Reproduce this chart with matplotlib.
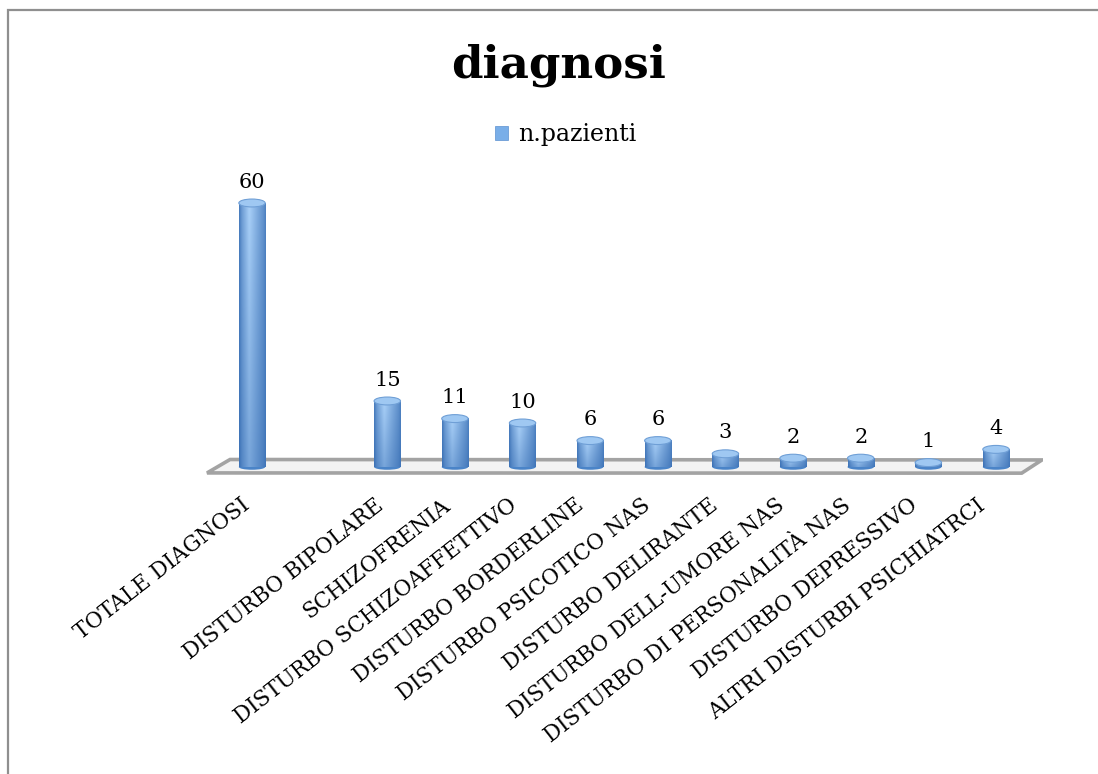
import numpy as np
import matplotlib
matplotlib.use("Agg")
import matplotlib.pyplot as plt
from matplotlib.patches import Ellipse, Polygon, Rectangle, Patch
from matplotlib.colors import to_rgb

# dati del grafico
categorie = ["TOTALE DIAGNOSI", "", "DISTURBO BIPOLARE", "SCHIZOFRENIA",
             "DISTURBO SCHIZOAFFETTIVO", "DISTURBO BORDERLINE",
             "DISTURBO PSICOTICO NAS", "DISTURBO DELIRANTE",
             "DISTURBO DELL-UMORE NAS", "DISTURBO DI PERSONALITÀ NAS",
             "DISTURBO DEPRESSIVO", "ALTRI DISTURBI PSICHIATRCI"]
n_pazienti = [60, np.nan, 15, 11, 10, 6, 6, 3, 2, 2, 1, 4]
titolo = "diagnosi"
serie = "n.pazienti"

SERIF = "DejaVu Serif"
BAR_W = 0.39       # larghezza cilindro (unità categoria)
CAP_H = 1.8        # altezza ellisse superiore (unità valore)

fig = plt.figure(figsize=(10.98, 7.74), dpi=100)
fig.patch.set_facecolor("white")

# cornice del grafico
fig.add_artist(Rectangle((8 / 1098, -0.05), 1.2, 1 - 10 / 774 + 0.05,
                         transform=fig.transFigure, fill=False,
                         edgecolor="#8f8f8f", lw=1.6))

ax = fig.add_axes([0.1864, 0.3796, 0.7638, 0.3695])
ax.set_xlim(-0.7, 11.7)
ax.set_ylim(-3, 62)
ax.axis("off")

# pavimento 3d
floor = Polygon([(-0.665, -1.35), (-0.325, 1.7), (11.68, 1.6), (11.38, -1.4)],
                closed=True, facecolor="#f3f3f3", edgecolor="#a3a3a3",
                lw=2.6, zorder=1)
ax.add_patch(floor)

# gradiente dei cilindri
light = np.array(to_rgb("#b0d6fc"))
dark = np.array(to_rgb("#2a62ab"))
t = np.linspace(0, 1, 64)
prof = np.interp(t, [0, 0.1, 0.38, 0.7, 0.92, 1], [0.2, 0.5, 0.95, 0.62, 0.4, 0.25])
v = np.linspace(0, 1, 64)[:, None]          # 0 = base, 1 = cima
shade = np.clip(prof[None, :] * (0.62 + 0.38 * v), 0, 1)
grad = dark[None, None, :] + (light - dark)[None, None, :] * shade[..., None]

for i, val in enumerate(n_pazienti):
    if np.isnan(val):
        continue
    x0, x1 = i - BAR_W / 2, i + BAR_W / 2
    # base arrotondata
    ax.add_patch(Ellipse((i, 0), BAR_W, CAP_H * 0.7, facecolor="#4a84c8",
                         edgecolor="none", zorder=2))
    ax.imshow(grad, extent=(x0, x1, 0, val), origin="lower", aspect="auto",
              interpolation="bicubic", zorder=3)
    ax.add_patch(Ellipse((i, val), BAR_W, CAP_H, facecolor="#9fc8f2",
                         edgecolor="#6f9fd6", lw=0.8, zorder=4))
    ax.text(i, val + 3.5, f"{val:g}", ha="center", va="baseline",
            fontsize=15, family=SERIF, color="black", zorder=5)

ax.set_xlim(-0.7, 11.7)
ax.set_ylim(-3, 62)

# etichette delle categorie
for i, lab in enumerate(categorie):
    if not lab:
        continue
    ax.text(i - 0.17 - 0.012 * i, -6.2, lab, rotation=38, ha="right", va="top",
            rotation_mode="anchor", fontsize=15.5, family=SERIF, clip_on=False)

fig.text(0.509, 0.9, titolo, ha="center", va="baseline", fontsize=32.5,
         fontweight="bold", family=SERIF)

fig.legend(handles=[Patch(facecolor="#79aee8", edgecolor="#5b90d0", lw=0.5, label=serie)],
           loc="center", bbox_to_anchor=(0.515, 0.826), frameon=False,
           prop={"family": SERIF, "size": 17}, handlelength=0.55,
           handleheight=0.55, handletextpad=0.45)

fig.savefig("out.png", dpi=100, facecolor="white")
